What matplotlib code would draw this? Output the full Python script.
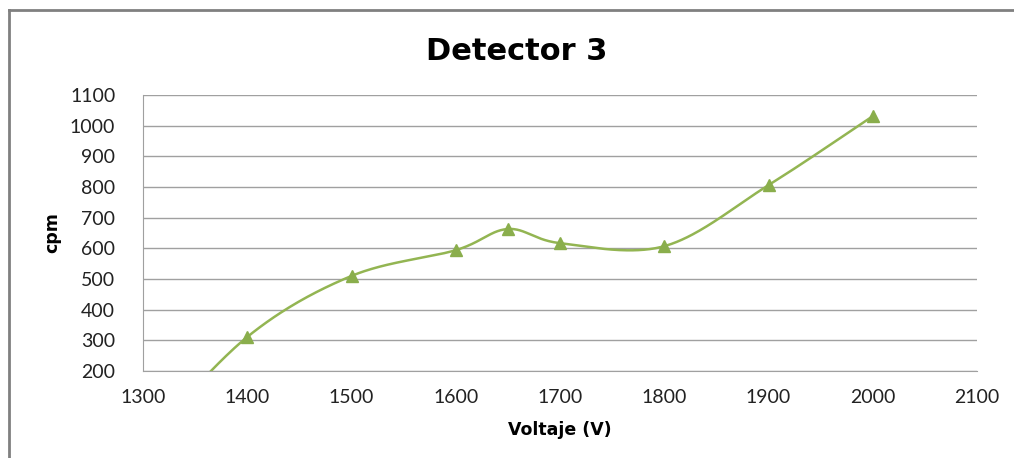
import matplotlib.pyplot as plt
import numpy as np
from matplotlib.lines import Line2D

plt.rcParams['font.family'] = ['Lato', 'DejaVu Sans']

# data (first point lies below the visible range)
voltaje = np.array([1300, 1400, 1500, 1600, 1650, 1700, 1800, 1900, 2000])
cpm = np.array([-40, 311, 510, 594, 663, 617, 607, 806, 1031])

green = '#93B552'

# excel-like smooth line: bezier through points (catmull-rom tangents)
def smooth(x, y, n=60):
    xs, ys = [], []
    px = np.concatenate([[x[0]], x, [x[-1]]])
    py = np.concatenate([[y[0]], y, [y[-1]]])
    t = np.linspace(0, 1, n)
    for i in range(1, len(px) - 2):
        p0 = np.array([px[i], py[i]])
        p3 = np.array([px[i + 1], py[i + 1]])
        p1 = p0 + (np.array([px[i + 1], py[i + 1]]) - np.array([px[i - 1], py[i - 1]])) / 6
        p2 = p3 - (np.array([px[i + 2], py[i + 2]]) - np.array([px[i], py[i]])) / 6
        b = ((1 - t) ** 3)[:, None] * p0 + (3 * (1 - t) ** 2 * t)[:, None] * p1 \
            + (3 * (1 - t) * t ** 2)[:, None] * p2 + (t ** 3)[:, None] * p3
        xs.extend(b[:, 0])
        ys.extend(b[:, 1])
    return np.array(xs), np.array(ys)

fig = plt.figure(figsize=(10.14, 4.58), dpi=100)
ax = fig.add_axes([143 / 1014, 87 / 458, 834 / 1014, 276 / 458])

sx, sy = smooth(voltaje, cpm)
ax.plot(sx, sy, color=green, lw=1.8)
ax.plot(voltaje[1:], cpm[1:], ls='none', marker='^', ms=8, color='#8AAE4C')

ax.set_xlim(1300, 2100)
ax.set_ylim(200, 1100)
ax.set_xticks(np.arange(1300, 2101, 100))
ax.set_yticks(np.arange(200, 1101, 100))
ax.grid(axis='y', color='#A0A0A0', lw=1)
ax.set_axisbelow(True)
for s in ['top', 'right']:
    ax.spines[s].set_visible(False)
for s in ['left', 'bottom']:
    ax.spines[s].set_color('#A0A0A0')
ax.tick_params(length=0, labelsize=14, colors='#222222')
ax.tick_params(axis='y', pad=20)
ax.tick_params(axis='x', pad=13)

fig.text(517 / 1014, 1 - 51 / 458, 'Detector 3', ha='center', va='center',
         fontsize=22, fontweight='bold', family='DejaVu Sans')
ax.set_xlabel('Voltaje (V)', fontsize=12.5, fontweight='bold', labelpad=11,
              family='DejaVu Sans')
ax.set_ylabel('cpm', fontsize=12.5, fontweight='bold', labelpad=6,
              family='DejaVu Sans')

# chart border (cut off at right and bottom)
fig.add_artist(Line2D([9 / 1014, 9 / 1014], [0, 1 - 10 / 458], color='#808080', lw=2))
fig.add_artist(Line2D([9 / 1014, 1], [1 - 10 / 458, 1 - 10 / 458], color='#808080', lw=2))

fig.savefig('out.png', dpi=100)
